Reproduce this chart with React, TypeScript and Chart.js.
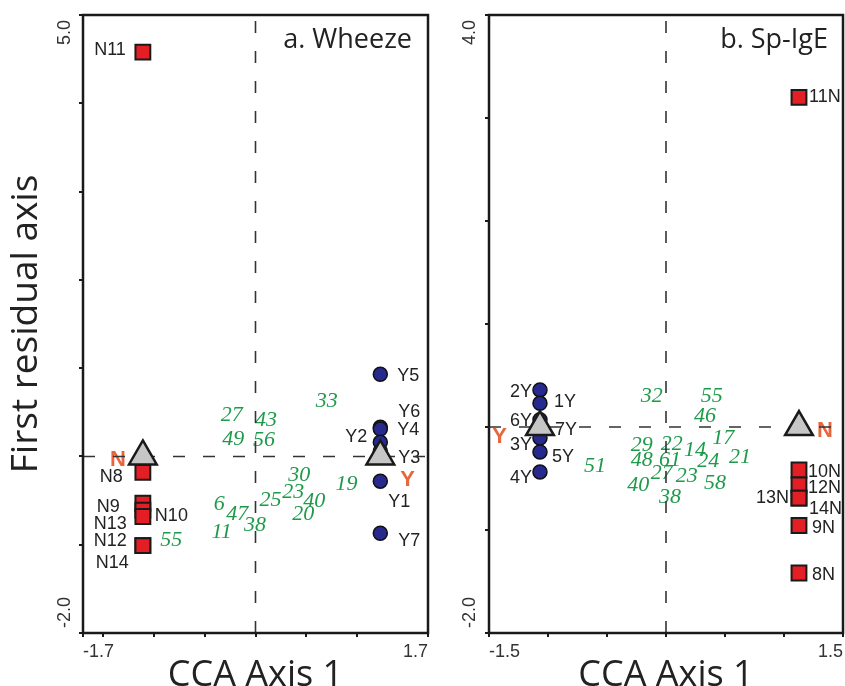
import React, { useEffect, useRef } from 'react';
import { Chart, registerables } from 'chart.js';

Chart.register(...registerables);

// ---------- Panel a. Wheeze ----------
const wheezeXTicks = [-1.7, -1.5, -1, -0.5, 0, 0.5, 1, 1.7];
const wheezeXTickLabels = ['-1.7', '', '', '', '', '', '', '1.7'];
const wheezeYTicks = [5, 4, 3, 2, 1, 0, -1, -2];
const wheezeYTickLabels = ['5.0', '', '', '', '', '', '', '-2.0'];

const wheezeNLabels = ['N11', 'N8', 'N9', 'N10', 'N13', 'N12', 'N14'];
const wheezeNX = [-1.11, -1.11, -1.11, -1.11, -1.11, -1.11, -1.11];
const wheezeNY = [4.58, -0.18, -0.53, -0.61, -0.68, -1.01, -1.01];

const wheezeYLabels = ['Y5', 'Y6', 'Y4', 'Y2', 'Y3', 'Y1', 'Y7'];
const wheezeYX = [1.23, 1.23, 1.23, 1.23, 1.23, 1.23, 1.23];
const wheezeYY = [0.93, 0.33, 0.31, 0.16, 0.06, -0.28, -0.87];

const wheezeCentroidLabels = ['N', 'Y'];
const wheezeCentroidX = [-1.11, 1.23];
const wheezeCentroidY = [0, 0];

const wheezeSubjLabels = ['27', '43', '49', '56', '33', '30', '23', '25', '40', '20', '19', '6', '47', '38', '11', '55'];
const wheezeSubjX = [-0.235, 0.103, -0.219, 0.083, 0.701, 0.431, 0.372, 0.149, 0.579, 0.47, 0.898, -0.357, -0.18, -0.005, -0.334, -0.83];
const wheezeSubjY = [0.47, 0.413, 0.198, 0.187, 0.621, -0.209, -0.406, -0.493, -0.512, -0.651, -0.311, -0.538, -0.651, -0.784, -0.863, -0.95];

// ---------- Panel b. Sp-IgE ----------
const igeXTicks = [-1.5, -1, -0.5, 0, 0.5, 1, 1.5];
const igeXTickLabels = ['-1.5', '', '', '', '', '', '1.5'];
const igeYTicks = [4, 3, 2, 1, 0, -1, -2];
const igeYTickLabels = ['4.0', '', '', '', '', '', '-2.0'];

const igeNLabels = ['11N', '10N', '12N', '13N', '14N', '9N', '8N'];
const igeNX = [1.127, 1.127, 1.127, 1.127, 1.127, 1.127, 1.127];
const igeNY = [3.2, -0.417, -0.563, -0.69, -0.69, -0.956, -1.417];

const igeYLabels = ['2Y', '1Y', '6Y', '7Y', '3Y', '5Y', '4Y'];
const igeYX = [-1.068, -1.068, -1.068, -1.068, -1.068, -1.068, -1.068];
const igeYY = [0.36, 0.23, 0.07, -0.05, -0.107, -0.243, -0.437];

const igeCentroidLabels = ['Y', 'N'];
const igeCentroidX = [-1.068, 1.127];
const igeCentroidY = [0, 0];

const igeSubjLabels = ['32', '55', '46', '17', '29', '22', '14', '21', '48', '61', '24', '27', '23', '40', '58', '38', '51'];
const igeSubjX = [-0.121, 0.387, 0.331, 0.486, -0.206, 0.048, 0.246, 0.627, -0.206, 0.034, 0.358, -0.037, 0.175, -0.235, 0.415, 0.034, -0.602];
const igeSubjY = [0.294, 0.294, 0.107, -0.11, -0.175, -0.165, -0.223, -0.294, -0.327, -0.327, -0.337, -0.45, -0.476, -0.563, -0.547, -0.677, -0.379];

// ---------- label placement (style only: pixel offsets from the marker) ----------
type Off = [number, number, CanvasTextAlign];
const wheezeNOffsets: Off[] = [[-17, -2, 'right'], [-20, 5, 'right'], [-23, 4, 'right'], [12, 6, 'left'], [-16, 8, 'right'], [-16, -5, 'right'], [-14, 17, 'right']];
const wheezeYOffsets: Off[] = [[17, 2, 'left'], [18, -15, 'left'], [17, 1, 'left'], [-13, -5, 'right'], [18, 7, 'left'], [8, 21, 'left'], [18, 8, 'left']];
const wheezeCentroidOffsets: Off[] = [[-17, 4, 'right'], [20, 24, 'left']];
const igeNOffsets: Off[] = [[10, 0, 'left'], [9, 2, 'left'], [9, 3, 'left'], [-10, 0, 'right'], [10, 11, 'left'], [13, 3, 'left'], [13, 2, 'left']];
const igeYOffsets: Off[] = [[-8, 2, 'right'], [14, -1, 'left'], [-8, 1, 'right'], [15, -2, 'left'], [-8, 7, 'right'], [12, 5, 'left'], [-8, 6, 'right']];
const igeCentroidOffsets: Off[] = [[-33, 10, 'right'], [18, 4, 'left']];

const SANS = '"Open Sans", "Noto Sans", sans-serif';
const ARIAL = '"Liberation Sans", Arial, sans-serif';
const POINT_FONT = '18px ' + ARIAL;
const SUBJ_FONT = 'italic 22px "Liberation Serif", "DejaVu Serif", serif';
const CENTROID_FONT = 'bold 22px ' + ARIAL;

const pts = (xs: number[], ys: number[]) => xs.map((x, i) => ({ x, y: ys[i] }));

const labelPlugin = {
  id: 'pointLabels',
  beforeDatasetsDraw(chart: any) {
    const ctx = chart.ctx;
    chart.data.datasets.forEach((ds: any, i: number) => {
      if (!ds.pointLabels) return;
      const meta = chart.getDatasetMeta(i);
      ctx.save();
      ctx.font = ds.labelFont;
      ctx.fillStyle = ds.labelColor;
      ctx.textBaseline = 'middle';
      meta.data.forEach((el: any, j: number) => {
        const off: Off = ds.labelOffsets ? ds.labelOffsets[j] : [0, 0, 'center'];
        ctx.textAlign = off[2];
        ctx.fillText(ds.pointLabels[j], el.x + off[0], el.y + off[1]);
      });
      ctx.restore();
    });
  },
};

const framePlugin = {
  id: 'frame',
  afterDraw(chart: any, _args: any, opts: any) {
    const ctx = chart.ctx;
    const a = chart.chartArea;
    ctx.save();
    ctx.strokeStyle = '#1a1a1a';
    ctx.lineWidth = 2.5;
    ctx.strokeRect(a.left, a.top, a.right - a.left, a.bottom - a.top);
    // panel title
    ctx.fillStyle = '#222';
    ctx.font = '27px ' + SANS;
    ctx.textAlign = 'right';
    ctx.textBaseline = 'alphabetic';
    ctx.fillText(opts.title, a.right - opts.titleInset, a.top + 33);
    // rotated y tick labels
    const ys = chart.scales.y;
    ctx.font = '18px ' + ARIAL;
    ctx.fillStyle = '#333';
    ctx.textBaseline = 'middle';
    opts.yTicks.forEach((v: number, i: number) => {
      const t = opts.yTickLabels[i];
      if (!t) return;
      const py = ys.getPixelForValue(v);
      const atTop = v === ys.max;
      ctx.save();
      ctx.translate(opts.yLabelX, atTop ? py + 5 : py - 5);
      ctx.rotate(-Math.PI / 2);
      ctx.textAlign = atTop ? 'right' : 'left';
      ctx.fillText(t, 0, 0);
      ctx.restore();
    });
    ctx.restore();
  },
};

function makeConfig(p: any) {
  const zeroLine = (data: any[]) => ({
    type: 'line',
    data,
    showLine: true,
    borderColor: '#333',
    borderWidth: 1.6,
    borderDash: [12, 18],
    pointRadius: 0,
    order: 10,
  });
  return {
    type: 'scatter',
    data: {
      datasets: [
        zeroLine([{ x: 0, y: p.yMin }, { x: 0, y: p.yMax }]),
        zeroLine([{ x: p.xMin, y: 0 }, { x: p.xMax, y: 0 }]),
        {
          data: pts(p.subjX, p.subjY),
          pointRadius: 0,
          pointLabels: p.subjLabels,
          labelFont: SUBJ_FONT,
          labelColor: '#1f9a4b',
          order: 5,
        },
        {
          data: pts(p.nX, p.nY),
          pointStyle: 'rect',
          pointRadius: 10.5,
          backgroundColor: '#e31e24',
          borderColor: '#1a1a1a',
          borderWidth: 2,
          pointLabels: p.nLabels,
          labelOffsets: p.nOffsets,
          labelFont: POINT_FONT,
          labelColor: '#222',
          order: 3,
        },
        {
          data: pts(p.yX, p.yY),
          pointStyle: 'circle',
          pointRadius: 7,
          backgroundColor: '#262a8e',
          borderColor: '#111',
          borderWidth: 1.5,
          pointLabels: p.yLabels,
          labelOffsets: p.yOffsets,
          labelFont: POINT_FONT,
          labelColor: '#222',
          order: 3,
        },
        {
          data: pts(p.cX, p.cY),
          pointStyle: 'triangle',
          pointRadius: 16,
          backgroundColor: '#c6c6c6',
          borderColor: '#1a1a1a',
          borderWidth: 2.5,
          pointLabels: p.cLabels,
          labelOffsets: p.cOffsets,
          labelFont: CENTROID_FONT,
          labelColor: '#e8663d',
          order: 1,
        },
      ],
    },
    options: {
      responsive: false,
      animation: false,
      events: [],
      layout: { autoPadding: false, padding: { top: 15, right: 2, left: 0, bottom: 0 } },
      plugins: {
        legend: { display: false },
        tooltip: { enabled: false },
        frame: {
          title: p.title,
          titleInset: p.titleInset,
          yTicks: p.yTicks,
          yTickLabels: p.yTickLabels,
          yLabelX: p.yLabelX,
        },
      },
      scales: {
        x: {
          type: 'linear',
          min: p.xMin,
          max: p.xMax,
          afterBuildTicks: (s: any) => {
            s.ticks = p.xTicks.map((v: number) => ({ value: v }));
          },
          afterFit: (s: any) => {
            s.height = 67;
            s.paddingLeft = 0;
            s.paddingRight = 0;
          },
          ticks: {
            align: 'inner',
            autoSkip: false,
            maxRotation: 0,
            padding: 4,
            color: '#333',
            font: { family: ARIAL, size: 18 },
            callback: (_v: any, i: number) => p.xTickLabels[i] ?? '',
          },
          grid: { drawOnChartArea: false, drawTicks: true, tickLength: 4, color: '#1a1a1a', lineWidth: 2 },
          border: { display: false },
          title: {
            display: true,
            text: 'CCA Axis 1',
            color: '#222',
            font: { family: SANS, size: 36, lineHeight: 1.2 },
            padding: { top: 0, bottom: 3 },
          },
        },
        y: {
          type: 'linear',
          min: p.yMin,
          max: p.yMax,
          afterBuildTicks: (s: any) => {
            s.ticks = p.yTicks.map((v: number) => ({ value: v }));
          },
          afterFit: (s: any) => {
            s.width = p.yWidth;
            s.paddingTop = 0;
            s.paddingBottom = 0;
          },
          ticks: { display: false },
          grid: { drawOnChartArea: false, drawTicks: true, tickLength: 4, color: '#1a1a1a', lineWidth: 2 },
          border: { display: false },
          title: {
            display: !!p.yTitle,
            text: p.yTitle || '',
            color: '#222',
            font: { family: SANS, size: 37, lineHeight: 1.2 },
            padding: { top: 4, bottom: 0 },
          },
        },
      },
    },
    plugins: [labelPlugin, framePlugin],
  };
}

const wheezeConfig = () =>
  makeConfig({
    title: 'a. Wheeze',
    titleInset: 16,
    xMin: -1.7, xMax: 1.7, yMin: -2, yMax: 5,
    xTicks: wheezeXTicks, xTickLabels: wheezeXTickLabels,
    yTicks: wheezeYTicks, yTickLabels: wheezeYTickLabels,
    yWidth: 83, yLabelX: 65, yTitle: 'First residual axis',
    nX: wheezeNX, nY: wheezeNY, nLabels: wheezeNLabels, nOffsets: wheezeNOffsets,
    yX: wheezeYX, yY: wheezeYY, yLabels: wheezeYLabels, yOffsets: wheezeYOffsets,
    cX: wheezeCentroidX, cY: wheezeCentroidY, cLabels: wheezeCentroidLabels, cOffsets: wheezeCentroidOffsets,
    subjX: wheezeSubjX, subjY: wheezeSubjY, subjLabels: wheezeSubjLabels,
  });

const igeConfig = () =>
  makeConfig({
    title: 'b. Sp-IgE',
    titleInset: 15,
    xMin: -1.5, xMax: 1.5, yMin: -2, yMax: 4,
    xTicks: igeXTicks, xTickLabels: igeXTickLabels,
    yTicks: igeYTicks, yTickLabels: igeYTickLabels,
    yWidth: 59, yLabelX: 40, yTitle: '',
    nX: igeNX, nY: igeNY, nLabels: igeNLabels, nOffsets: igeNOffsets,
    yX: igeYX, yY: igeYY, yLabels: igeYLabels, yOffsets: igeYOffsets,
    cX: igeCentroidX, cY: igeCentroidY, cLabels: igeCentroidLabels, cOffsets: igeCentroidOffsets,
    subjX: igeSubjX, subjY: igeSubjY, subjLabels: igeSubjLabels,
  });

function Panel({ build, left, width }: { build: () => any; left: number; width: number }) {
  const ref = useRef<HTMLCanvasElement>(null);
  useEffect(() => {
    const chart = new Chart(ref.current as HTMLCanvasElement, build());
    return () => chart.destroy();
  }, []);
  return (
    <canvas
      ref={ref}
      width={width}
      height={700}
      style={{ position: 'absolute', left, top: 0, width, height: 700 }}
    />
  );
}

export default function App() {
  return (
    <div
      style={{
        position: 'fixed',
        left: 0,
        top: 0,
        width: 845,
        height: 686,
        overflow: 'hidden',
        background: '#fff',
      }}
    >
      <Panel build={wheezeConfig} left={0} width={430} />
      <Panel build={igeConfig} left={430} width={415} />
    </div>
  );
}
